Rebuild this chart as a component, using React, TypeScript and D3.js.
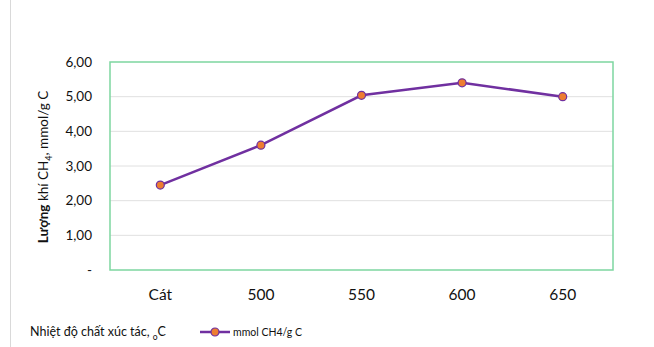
import React from "react"
import * as d3 from "d3"

// Data
const categories = ["Cát", "500", "550", "600", "650"]
const methaneValues = [2.45, 3.6, 5.04, 5.4, 5.0]
const yTicks = [0, 1, 2, 3, 4, 5, 6]
const yTickLabels = ["-", "1,00", "2,00", "3,00", "4,00", "5,00", "6,00"]
const seriesName = "mmol CH4/g C"

const font = "Lato, 'Open Sans', sans-serif"

export default function App() {
  const totalW = 654
  const totalH = 347
  const margin = { top: 62, bottom: 77, left: 110, right: 41 }
  const w = totalW - margin.left - margin.right
  const h = totalH - margin.top - margin.bottom

  const xScale = d3.scaleBand<string>().domain(categories).range([0, w])
  const yScale = d3.scaleLinear().domain([0, 6]).range([h, 0])

  const line = d3
    .line<number>()
    .x((_, i) => xScale(categories[i])! + xScale.bandwidth() / 2)
    .y((d) => yScale(d))

  return (
    <svg
      width={totalW}
      height={totalH}
      style={{ position: "absolute", left: 0, top: 0, background: "white" }}
      fontFamily={font}
    >
      <line x1={10.5} x2={10.5} y1={0} y2={totalH} stroke="#d9d9d9" />
      <g transform={`translate(${margin.left}, ${margin.top})`}>
        {yTicks.slice(1, -1).map((t) => (
          <line key={`g-${t}`} x1={0} x2={w} y1={yScale(t)} y2={yScale(t)} stroke="#e0e0e0" strokeWidth={1} />
        ))}
        <rect x={0} y={0} width={w} height={h} fill="none" stroke="#7dd6a0" strokeWidth={1.5} />
        {yTicks.map((t, i) => (
          <text key={`y-${t}`} x={-18} y={yScale(t)} dy="0.35em" textAnchor="end" fontSize={13.5} fill="#111">
            {yTickLabels[i]}
          </text>
        ))}
        {categories.map((c) => (
          <text
            key={`x-${c}`}
            x={xScale(c)! + xScale.bandwidth() / 2}
            y={h + 25}
            dy="0.35em"
            textAnchor="middle"
            fontSize={15.5}
            fill="#111"
          >
            {c}
          </text>
        ))}
        <path d={line(methaneValues) ?? ""} fill="none" stroke="#7030a0" strokeWidth={2.5} />
        {methaneValues.map((d, i) => (
          <circle
            key={`p-${i}`}
            cx={xScale(categories[i])! + xScale.bandwidth() / 2}
            cy={yScale(d)}
            r={4}
            fill="#ed7d31"
            stroke="#7030a0"
            strokeWidth={1.2}
          />
        ))}
      </g>
      <text
        transform={`translate(48, 167) rotate(-90)`}
        textAnchor="middle"
        fontSize={13.5}
        fill="#111"
      >
        <tspan fontWeight="bold">Lượng</tspan>
        <tspan> khí CH</tspan>
        <tspan fontSize={9} dy={4}>4</tspan>
        <tspan dy={-4}>, mmol/g C</tspan>
      </text>
      <text x={30} y={332} dy="0.35em" fontSize={12.5} fill="#111">
        Nhiệt độ chất xúc tác, <tspan fontSize={8.5} dy={4}>o</tspan>
        <tspan dy={-4}>C</tspan>
      </text>
      <g transform="translate(200, 332)">
        <line x1={0} x2={30} y1={0} y2={0} stroke="#7030a0" strokeWidth={2.5} />
        <circle cx={15} cy={0} r={4} fill="#ed7d31" stroke="#7030a0" strokeWidth={1.2} />
        <text x={33} y={0} dy="0.35em" fontSize={10.5} fill="#111">
          {seriesName}
        </text>
      </g>
    </svg>
  )
}
